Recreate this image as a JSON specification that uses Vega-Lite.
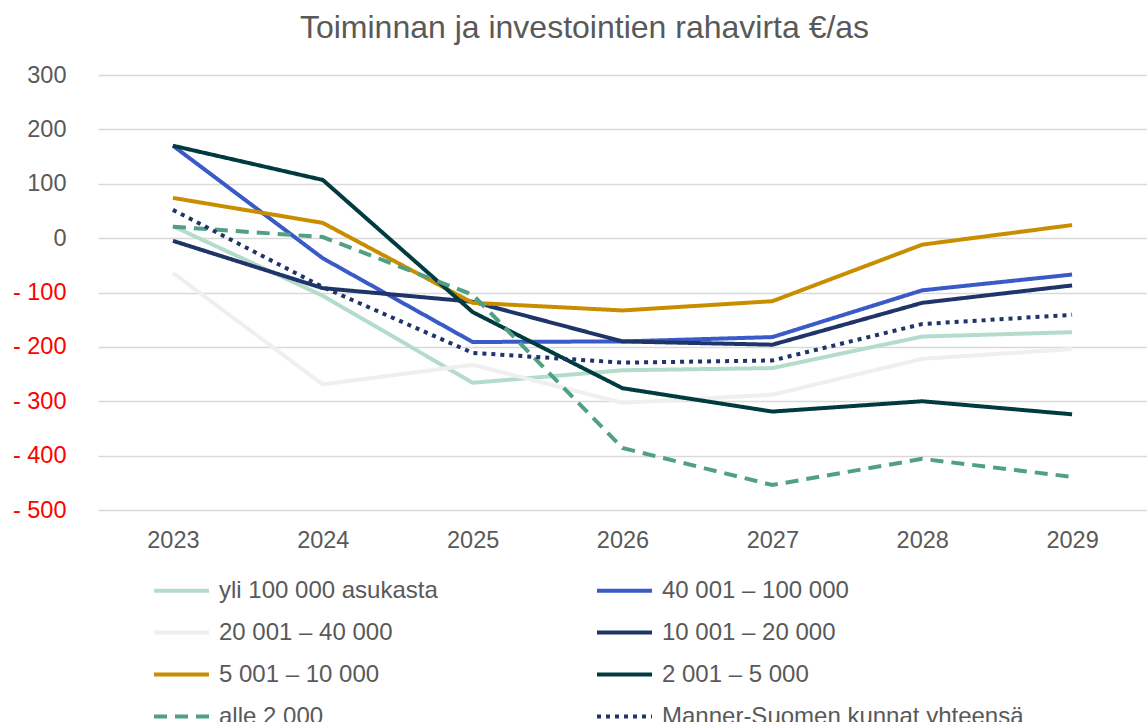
{
  "$schema": "https://vega.github.io/schema/vega-lite/v6.json",
  "width": 1049,
  "height": 435,
  "autosize": {"type": "none"},
  "padding": {"left": 98, "top": 75, "right": 0, "bottom": 212},
  "background": "white",
  "title": {
    "text": "Toiminnan ja investointien rahavirta €/as",
    "fontSize": 32,
    "font": "Liberation Sans",
    "fontWeight": "normal",
    "color": "#595959",
    "offset": 18,
    "dx": -38
  },
  "datasets": {
    "rows": [
      {"year": "2023", "series": "yli 100 000 asukasta", "value": 22},
      {"year": "2024", "series": "yli 100 000 asukasta", "value": -106},
      {"year": "2025", "series": "yli 100 000 asukasta", "value": -266},
      {"year": "2026", "series": "yli 100 000 asukasta", "value": -243},
      {"year": "2027", "series": "yli 100 000 asukasta", "value": -239},
      {"year": "2028", "series": "yli 100 000 asukasta", "value": -181},
      {"year": "2029", "series": "yli 100 000 asukasta", "value": -173},

      {"year": "2023", "series": "40 001 – 100 000", "value": 170},
      {"year": "2024", "series": "40 001 – 100 000", "value": -37},
      {"year": "2025", "series": "40 001 – 100 000", "value": -191},
      {"year": "2026", "series": "40 001 – 100 000", "value": -190},
      {"year": "2027", "series": "40 001 – 100 000", "value": -182},
      {"year": "2028", "series": "40 001 – 100 000", "value": -96},
      {"year": "2029", "series": "40 001 – 100 000", "value": -67},

      {"year": "2023", "series": "20 001 – 40 000", "value": -64},
      {"year": "2024", "series": "20 001 – 40 000", "value": -269},
      {"year": "2025", "series": "20 001 – 40 000", "value": -233},
      {"year": "2026", "series": "20 001 – 40 000", "value": -303},
      {"year": "2027", "series": "20 001 – 40 000", "value": -288},
      {"year": "2028", "series": "20 001 – 40 000", "value": -222},
      {"year": "2029", "series": "20 001 – 40 000", "value": -204},

      {"year": "2023", "series": "10 001 – 20 000", "value": -5},
      {"year": "2024", "series": "10 001 – 20 000", "value": -92},
      {"year": "2025", "series": "10 001 – 20 000", "value": -117},
      {"year": "2026", "series": "10 001 – 20 000", "value": -190},
      {"year": "2027", "series": "10 001 – 20 000", "value": -196},
      {"year": "2028", "series": "10 001 – 20 000", "value": -119},
      {"year": "2029", "series": "10 001 – 20 000", "value": -87},

      {"year": "2023", "series": "5 001 – 10 000", "value": 74},
      {"year": "2024", "series": "5 001 – 10 000", "value": 28},
      {"year": "2025", "series": "5 001 – 10 000", "value": -119},
      {"year": "2026", "series": "5 001 – 10 000", "value": -133},
      {"year": "2027", "series": "5 001 – 10 000", "value": -116},
      {"year": "2028", "series": "5 001 – 10 000", "value": -12},
      {"year": "2029", "series": "5 001 – 10 000", "value": 24},

      {"year": "2023", "series": "2 001 – 5 000", "value": 170},
      {"year": "2024", "series": "2 001 – 5 000", "value": 107},
      {"year": "2025", "series": "2 001 – 5 000", "value": -136},
      {"year": "2026", "series": "2 001 – 5 000", "value": -276},
      {"year": "2027", "series": "2 001 – 5 000", "value": -319},
      {"year": "2028", "series": "2 001 – 5 000", "value": -300},
      {"year": "2029", "series": "2 001 – 5 000", "value": -324},

      {"year": "2023", "series": "alle 2 000", "value": 21},
      {"year": "2024", "series": "alle 2 000", "value": 2},
      {"year": "2025", "series": "alle 2 000", "value": -104},
      {"year": "2026", "series": "alle 2 000", "value": -386},
      {"year": "2027", "series": "alle 2 000", "value": -454},
      {"year": "2028", "series": "alle 2 000", "value": -406},
      {"year": "2029", "series": "alle 2 000", "value": -439},

      {"year": "2023", "series": "Manner-Suomen kunnat yhteensä", "value": 52},
      {"year": "2024", "series": "Manner-Suomen kunnat yhteensä", "value": -90},
      {"year": "2025", "series": "Manner-Suomen kunnat yhteensä", "value": -211},
      {"year": "2026", "series": "Manner-Suomen kunnat yhteensä", "value": -229},
      {"year": "2027", "series": "Manner-Suomen kunnat yhteensä", "value": -225},
      {"year": "2028", "series": "Manner-Suomen kunnat yhteensä", "value": -158},
      {"year": "2029", "series": "Manner-Suomen kunnat yhteensä", "value": -141}
    ]
  },
  "data": {"name": "rows"},
  "mark": {"type": "line", "strokeWidth": 4, "strokeCap": "butt", "strokeJoin": "miter"},
  "encoding": {
    "x": {
      "field": "year",
      "type": "ordinal",
      "scale": {"type": "point", "padding": 0.5},
      "axis": {
        "title": null,
        "labelAngle": 0,
        "domain": false,
        "ticks": false,
        "grid": false,
        "labelPadding": 18,
        "labelFontSize": 23.5,
        "labelFont": "Liberation Sans",
        "labelColor": "#595959"
      }
    },
    "y": {
      "field": "value",
      "type": "quantitative",
      "scale": {"domain": [-500, 300], "nice": false, "zero": false},
      "axis": {
        "title": null,
        "values": [-500, -400, -300, -200, -100, 0, 100, 200, 300],
        "domain": false,
        "ticks": false,
        "grid": true,
        "gridColor": "#d9d9d9",
        "gridWidth": 1.5,
        "labelPadding": 32,
        "labelFontSize": 23.5,
        "labelFont": "Liberation Sans",
        "labelExpr": "datum.value < 0 ? '- ' + abs(datum.value) : '' + datum.value",
        "labelColor": {"condition": {"test": "datum.value < 0", "value": "#ff0000"}, "value": "#595959"}
      }
    },
    "color": {
      "field": "series",
      "type": "nominal",
      "scale": {
        "domain": ["yli 100 000 asukasta", "40 001 – 100 000", "20 001 – 40 000", "10 001 – 20 000", "5 001 – 10 000", "2 001 – 5 000", "alle 2 000", "Manner-Suomen kunnat yhteensä"],
        "range": ["#b4dccb", "#3a5bc7", "#efefef", "#1f3468", "#c98e00", "#003c3f", "#50a083", "#1f3468"]
      },
      "legend": {
        "title": null,
        "orient": "none",
        "legendX": 54,
        "legendY": 486,
        "direction": "horizontal",
        "columns": 2,
        "columnPadding": 151,
        "rowPadding": 0,
        "symbolType": "stroke",
        "symbolSize": 3025,
        "symbolStrokeWidth": 4,
        "labelFontSize": 24,
        "labelFont": "Liberation Sans",
        "labelColor": "#595959",
        "labelOffset": 8,
        "labelLimit": 500
      }
    },
    "strokeDash": {
      "field": "series",
      "type": "nominal",
      "scale": {
        "domain": ["yli 100 000 asukasta", "40 001 – 100 000", "20 001 – 40 000", "10 001 – 20 000", "5 001 – 10 000", "2 001 – 5 000", "alle 2 000", "Manner-Suomen kunnat yhteensä"],
        "range": [[1, 0], [1, 0], [1, 0], [1, 0], [1, 0], [1, 0], [13, 8], [4, 5]]
      },
      "legend": {
        "title": null,
        "orient": "none",
        "legendX": 54,
        "legendY": 486,
        "direction": "horizontal",
        "columns": 2,
        "columnPadding": 151,
        "rowPadding": 0,
        "symbolType": "stroke",
        "symbolSize": 3025,
        "symbolStrokeWidth": 4,
        "labelFontSize": 24,
        "labelFont": "Liberation Sans",
        "labelColor": "#595959",
        "labelOffset": 8,
        "labelLimit": 500
      }
    }
  },
  "config": {
    "view": {"stroke": null}
  }
}
